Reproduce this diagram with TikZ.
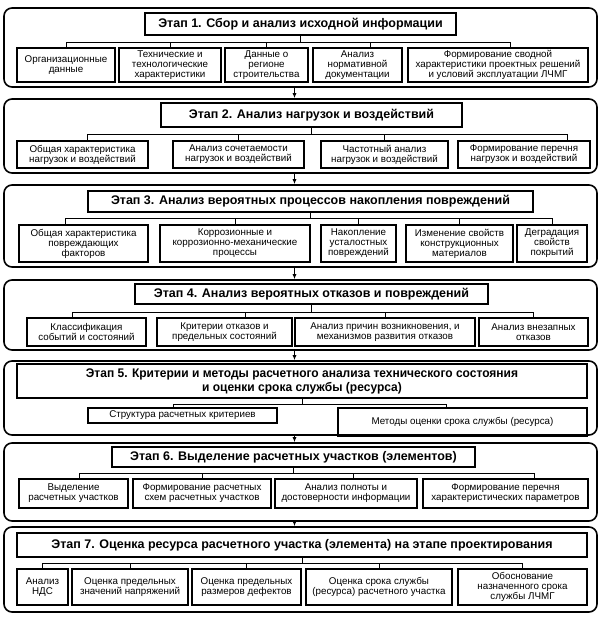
\documentclass[tikz,border=0pt]{standalone}
\usepackage{fontspec}
\setmainfont{Liberation Sans}
\newfontfamily\condfont[FakeStretch=0.96]{Liberation Sans}
\usetikzlibrary{arrows.meta}

\begin{document}
\begin{tikzpicture}[
      x=1pt,y=-1pt,
      stage/.style={draw,line width=1.6pt,rounded corners=8pt,minimum width=593pt},
      title/.style={draw,line width=1.2pt,inner sep=1pt,align=center,font=\fontsize{12.5}{14}\selectfont\bfseries},
      box/.style={draw,line width=1.2pt,inner sep=0.5pt,align=center,font=\fontsize{9.8}{10}\selectfont},
      conn/.style={line width=0.8pt},
      flow/.style={line width=1pt,-{Latex[length=5pt,width=4pt]}}]
    \useasboundingbox (0,0) rectangle (602,619);

    \node[stage,minimum height=79pt] (st1) at (300.5,47.5) {};
    \node[title,minimum width=311pt,minimum height=22pt] (t1) at (300.5,24) {Этап 1. Сбор и анализ исходной информации};
    \node[box,minimum width=98pt,minimum height=34pt] (a1) at (66,65) {Организационные\\данные};
    \node[box,minimum width=102pt,minimum height=34pt] (b1) at (170,65) {Технические и\\технологические\\характеристики};
    \node[box,minimum width=83pt,minimum height=34pt] (c1) at (266.5,65) {Данные о\\регионе\\строительства};
    \node[box,minimum width=89pt,minimum height=34pt] (d1) at (357.5,65) {Анализ\\нормативной\\документации};
    \node[box,minimum width=180pt,minimum height=34pt] (e1) at (498,65) {Формирование сводной\\характеристики проектных решений\\и условий эксплуатации ЛЧМГ};
    \draw[conn] (t1.south) -- ++(0,7) -| (a1.north)
      (t1.south) ++(0,7) -| (b1.north)
      (t1.south) ++(0,7) -| (c1.north)
      (t1.south) ++(0,7) -| ([xshift=13pt]d1.north)
      (t1.south) ++(0,7) -| ([xshift=12pt]e1.north);

    \node[stage,minimum height=74pt] (st2) at (300.5,136) {};
    \node[title,minimum width=301pt,minimum height=24pt] (t2) at (311.5,115) {Этап 2. Анализ нагрузок и воздействий};
    \node[box,minimum width=131pt,minimum height=27pt] (a2) at (82.5,154.5) {Общая характеристика\\нагрузок и воздействий};
    \node[box,minimum width=131pt,minimum height=27pt] (b2) at (238.5,154.5) {Анализ сочетаемости\\нагрузок и воздействий};
    \node[box,minimum width=127pt,minimum height=27pt] (c2) at (384.5,154.5) {Частотный анализ\\нагрузок и воздействий};
    \node[box,minimum width=132pt,minimum height=27pt] (d2) at (524,154.5) {Формирование перечня\\нагрузок и воздействий};
    \draw[conn] (t2.south) -- ++(0,7) -| ([xshift=5pt]a2.north)
      (t2.south) ++(0,7) -| (b2.north)
      (t2.south) ++(0,7) -| (c2.north)
      (t2.south) ++(0,7) -| ([xshift=43pt]d2.north);

    \node[stage,minimum height=82pt] (st3) at (300.5,226) {};
    \node[title,minimum width=445pt,minimum height=21pt] (t3) at (310.5,201.5) {Этап 3. Анализ вероятных процессов накопления повреждений};
    \node[box,minimum width=129pt,minimum height=37pt] (a3) at (83.5,243.5) {Общая характеристика\\повреждающих\\факторов};
    \node[box,minimum width=150pt,minimum height=37pt] (b3) at (235,243.5) {Коррозионные и\\коррозионно-механические\\процессы};
    \node[box,minimum width=75pt,minimum height=37pt] (c3) at (358.5,243.5) {Накопление\\усталостных\\повреждений};
    \node[box,minimum width=107pt,minimum height=37pt] (d3) at (459.5,243.5) {Изменение свойств\\конструкционных\\материалов};
    \node[box,minimum width=70pt,minimum height=37pt] (e3) at (552,243.5) {Деградация\\свойств\\покрытий};
    \draw[conn] (t3.south) -- ++(0,6) -| ([xshift=-18pt]a3.north)
      (t3.south) ++(0,6) -| (b3.north)
      (t3.south) ++(0,6) -| (c3.north)
      (t3.south) ++(0,6) -| (d3.north)
      (t3.south) ++(0,6) -| (e3.north);

    \node[stage,minimum height=70pt] (st4) at (300.5,315) {};
    \node[title,minimum width=353pt,minimum height=20pt] (t4) at (311.5,294) {Этап 4. Анализ вероятных отказов и повреждений};
    \node[box,minimum width=119pt,minimum height=28pt] (a4) at (86.5,332) {Классификация\\событий и состояний};
    \node[box,minimum width=135pt,minimum height=28pt] (b4) at (224.5,332) {Критерии отказов и\\предельных состояний};
    \node[box,minimum width=180pt,minimum height=28pt] (c4) at (385,332) {Анализ причин возникновения, и\\механизмов развития отказов};
    \node[box,minimum width=109pt,minimum height=28pt] (d4) at (533.5,332) {Анализ внезапных\\отказов};
    \draw[conn] (t4.south) -- ++(0,8) -| ([xshift=-14pt]a4.north)
      (t4.south) ++(0,8) -| ([xshift=21pt]b4.north)
      (t4.south) ++(0,8) -| (c4.north)
      (t4.south) ++(0,8) -| (d4.north);

    \node[stage,minimum height=74pt] (st5) at (300.5,398) {};
    \node[title,minimum width=570pt,minimum height=34pt,font=\fontsize{12.5}{14}\condfont\bfseries] (t5) at (302,381) {Этап 5. Критерии и методы расчетного анализа технического состояния\\и оценки срока службы (ресурса)};
    \node[box,minimum width=189pt,minimum height=15pt] (a5) at (182.5,415.5) {Структура расчетных критериев};
    \node[box,minimum width=249pt,minimum height=28pt] (b5) at (462.5,422) {Методы оценки срока службы (ресурса)};
    \draw[conn] (t5.south) -- ++(0,6) -| ([xshift=-9pt]a5.north)
      (t5.south) ++(0,6) -| ([xshift=-16pt]b5.north);

    \node[stage,minimum height=78pt] (st6) at (300.5,482) {};
    \node[title,minimum width=363pt,minimum height=20pt] (t6) at (293.5,457) {Этап 6. Выделение расчетных участков (элементов)};
    \node[box,minimum width=109pt,minimum height=29pt] (a6) at (73.5,493.5) {Выделение\\расчетных участков};
    \node[box,minimum width=138pt,minimum height=29pt] (b6) at (202,493.5) {Формирование расчетных\\схем расчетных участков};
    \node[box,minimum width=142pt,minimum height=29pt] (c6) at (346,493.5) {Анализ полноты и\\достоверности информации};
    \node[box,minimum width=165pt,minimum height=29pt] (d6) at (505.5,493.5) {Формирование перечня\\характеристических параметров};
    \draw[conn] (t6.south) -- ++(0,6) -| ([xshift=6pt]a6.north)
      (t6.south) ++(0,6) -| (b6.north)
      (t6.south) ++(0,6) -| ([xshift=7pt]c6.north)
      (t6.south) ++(0,6) -| ([xshift=29pt]d6.north);

    \node[stage,minimum height=85pt] (st7) at (300.5,569.5) {};
    \node[title,minimum width=570pt,minimum height=24pt] (t7) at (302,545) {Этап 7. Оценка ресурса расчетного участка (элемента) на этапе проектирования};
    \node[box,minimum width=51pt,minimum height=36pt] (a7) at (42.5,587) {Анализ\\НДС};
    \node[box,minimum width=116pt,minimum height=36pt] (b7) at (130,587) {Оценка предельных\\значений напряжений};
    \node[box,minimum width=109pt,minimum height=36pt] (c7) at (246.5,587) {Оценка предельных\\размеров дефектов};
    \node[box,minimum width=146pt,minimum height=36pt] (d7) at (379,587) {Оценка срока службы\\(ресурса) расчетного участка};
    \node[box,minimum width=129pt,minimum height=36pt] (e7) at (522.5,587) {Обоснование\\назначенного срока\\службы ЛЧМГ};
    \draw[conn] (t7.south) -- ++(0,6) -| (a7.north)
      (t7.south) ++(0,6) -| (b7.north)
      (t7.south) ++(0,6) -| (c7.north)
      (t7.south) ++(0,6) -| (d7.north)
      (t7.south) ++(0,6) -| (e7.north);

    \draw[flow] ([xshift=-6pt]st1.south) -- ([xshift=-6pt]st2.north);
    \draw[flow] ([xshift=-6pt]st2.south) -- ([xshift=-6pt]st3.north);
    \draw[flow] ([xshift=-6pt]st3.south) -- ([xshift=-6pt]st4.north);
    \draw[flow] ([xshift=-6pt]st4.south) -- ([xshift=-6pt]st5.north);
    \draw[flow] ([xshift=-6pt]st5.south) -- ([xshift=-6pt]st6.north);
    \draw[flow] ([xshift=-6pt]st6.south) -- ([xshift=-6pt]st7.north);
  \end{tikzpicture}
\end{document}
